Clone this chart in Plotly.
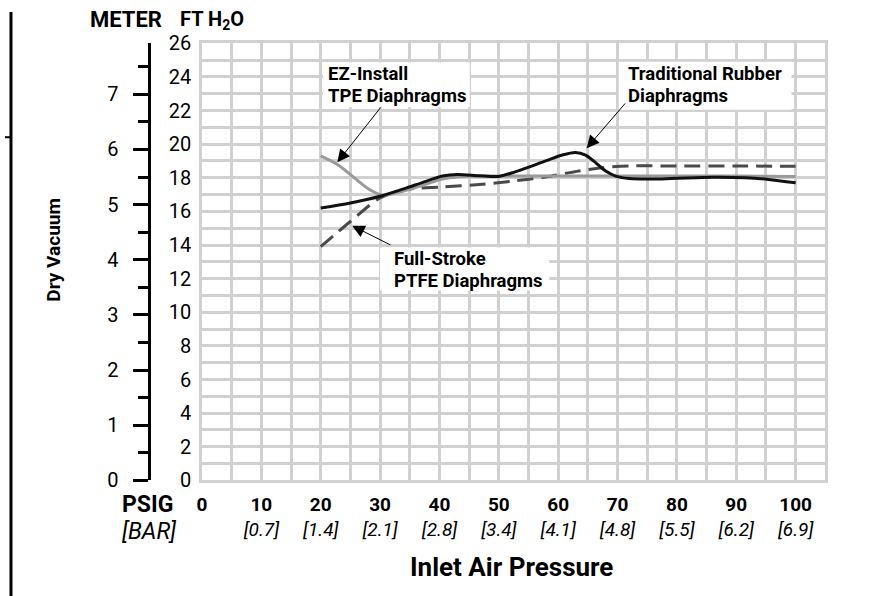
import plotly.graph_objects as go

W, H = 887, 611
FONT = "Roboto, Liberation Sans, sans-serif"

# ---------------- data ----------------
psig_ticks = [0, 10, 20, 30, 40, 50, 60, 70, 80, 90, 100]
bar_labels = ["", "[0.7]", "[1.4]", "[2.1]", "[2.8]", "[3.4]", "[4.1]", "[4.8]", "[5.5]", "[6.2]", "[6.9]"]
ft_ticks = [0, 2, 4, 6, 8, 10, 12, 14, 16, 18, 20, 22, 24, 26]
meter_ticks = [0, 1, 2, 3, 4, 5, 6, 7]
FT_PER_M = 3.28084

rubber_x = [20, 25, 30, 34.5, 37, 40.5, 43, 46.7, 50, 52.3, 57.9, 60.7, 62.9, 64.6, 66.3, 68, 69.7, 72, 77.5, 86, 91.5, 95.4, 100]
rubber_y = [16.2, 16.5, 16.9, 17.4, 17.7, 18.1, 18.2, 18.12, 18.08, 18.3, 19.0, 19.35, 19.5, 19.35, 18.9, 18.4, 18.1, 17.95, 17.93, 18.03, 18.0, 17.9, 17.7]

ptfe_x = [20, 25, 30, 34.5, 40.5, 46.7, 52.3, 57.9, 63.5, 67.4, 72, 80, 90, 100]
ptfe_y = [13.9, 15.4, 16.8, 17.3, 17.45, 17.6, 17.8, 18.05, 18.4, 18.6, 18.7, 18.7, 18.7, 18.68]

tpe_x = [20, 23, 26, 28.2, 30.5, 33.8, 37.2, 40.5, 43.9, 50, 60, 70, 80, 90, 100]
tpe_y = [19.3, 18.75, 17.9, 17.3, 16.96, 17.2, 17.55, 17.93, 18.08, 18.1, 18.1, 18.1, 18.1, 18.1, 18.08]

callout_lines = [["EZ-Install", "TPE Diaphragms"],
                 ["Traditional Rubber", "Diaphragms"],
                 ["Full-Stroke", "PTFE Diaphragms"]]

# photographed-page correction (page px -> picture px: x' = OX + SX*x, y' = OY + SY*y)
OX, SX = 4.0, 0.997
OY, SY = 12.4, 0.956


def fx(X):
    return (X - OX) / SX / W


def fy(Y):
    return 1 - (Y - OY) / SY / H


GRID = "#d0d0d0"

fig = go.Figure()
fig.add_trace(go.Scatter(x=ptfe_x, y=ptfe_y, mode="lines",
                         line=dict(color="#4a4a4a", width=3, dash="16px,8px", shape="spline", smoothing=0.8),
                         hoverinfo="skip", showlegend=False))
fig.add_trace(go.Scatter(x=tpe_x, y=tpe_y, mode="lines",
                         line=dict(color="#9a9a9a", width=3, shape="spline", smoothing=0.8),
                         hoverinfo="skip", showlegend=False))
fig.add_trace(go.Scatter(x=rubber_x, y=rubber_y, mode="lines",
                         line=dict(color="#111111", width=3, shape="spline", smoothing=0.8),
                         hoverinfo="skip", showlegend=False))
# meter axis carrier (no visible mark)
fig.add_trace(go.Scatter(x=[None], y=[None], yaxis="y2", mode="lines", showlegend=False, hoverinfo="skip"))

ticktext = [f"<b>{p}</b><br><i>{b}</i>" if b else f"<b>{p}</b>" for p, b in zip(psig_ticks, bar_labels)]

fig.update_layout(
    width=W, height=H, autosize=False,
    margin=dict(l=0, r=0, t=0, b=0),
    paper_bgcolor="white", plot_bgcolor="white",
    font=dict(family=FONT, color="black"),
    xaxis=dict(
        domain=[fx(201.5), fx(826.5)], range=[0, 105],
        tickmode="array", tickvals=psig_ticks, ticktext=ticktext,
        tickfont=dict(size=19, family=FONT, color="black"),
        ticks="", ticklabelstandoff=5,
        showgrid=True, gridcolor=GRID, gridwidth=2.5,
        minor=dict(tickmode="linear", tick0=0, dtick=5, showgrid=True, gridcolor=GRID, gridwidth=2.5),
        showline=True, linecolor=GRID, linewidth=2.5, mirror=True,
        zeroline=False, fixedrange=True,
    ),
    yaxis=dict(
        domain=[fy(478.5), fy(43.5)], range=[0, 26],
        tickmode="array", tickvals=ft_ticks,
        tickfont=dict(size=20, family=FONT, color="black"),
        ticks="", ticklabelstandoff=4,
        showgrid=True, gridcolor=GRID, gridwidth=2.5,
        minor=dict(tickmode="linear", tick0=0, dtick=1, showgrid=True, gridcolor=GRID, gridwidth=2.5),
        showline=True, linecolor=GRID, linewidth=2.5, mirror=True,
        zeroline=False, fixedrange=True,
    ),
    yaxis2=dict(
        overlaying="y", anchor="free", position=fx(148), side="left",
        range=[0, 26 / FT_PER_M],
        tickmode="array", tickvals=meter_ticks,
        tickfont=dict(size=20, family=FONT, color="black"),
        ticks="outside", ticklen=15, tickwidth=3, tickcolor="black",
        ticklabelstandoff=10,
        minor=dict(tickmode="linear", tick0=0, dtick=0.5, ticks="outside", ticklen=10,
                   tickwidth=3, tickcolor="black", showgrid=False),
        showline=True, linecolor="black", linewidth=3,
        showgrid=False, zeroline=False, fixedrange=True,
    ),
)

ann = []
# headers
ann.append(dict(xref="paper", yref="paper", x=fx(125), y=fy(20), text="<b>METER</b>", showarrow=False,
                font=dict(size=22, family=FONT), xanchor="center", yanchor="middle"))
ann.append(dict(xref="paper", yref="paper", x=fx(177), y=fy(20), text="<b>FT H<sub>2</sub>O</b>", showarrow=False,
                font=dict(size=20, family=FONT), xanchor="left", yanchor="middle"))
ann.append(dict(xref="paper", yref="paper", x=fx(53), y=fy(249), text="<b>Dry Vacuum</b>", showarrow=False,
                font=dict(size=19, family=FONT), textangle=-90, xanchor="center", yanchor="middle"))
ann.append(dict(xref="paper", yref="paper", x=fx(147), y=fy(502), text="<b>PSIG</b>", showarrow=False,
                font=dict(size=23, family=FONT), xanchor="center", yanchor="middle"))
ann.append(dict(xref="paper", yref="paper", x=fx(149), y=fy(529), text="<i>[BAR]</i>", showarrow=False,
                font=dict(size=23, family=FONT), xanchor="center", yanchor="middle"))
ann.append(dict(xref="paper", yref="paper", x=fx(512), y=fy(565), text="<b>Inlet Air Pressure</b>", showarrow=False,
                font=dict(size=26, family=FONT), xanchor="center", yanchor="middle"))

# callout text, one annotation per line: (left x, [line y ...]) in data units
text_pos = [(21.1, [24.18, 22.86]), (71.66, [24.18, 22.84]), (32.17, [13.14, 11.84])]
for lines, (bx, ys) in zip(callout_lines, text_pos):
    for line, ly in zip(lines, ys):
        ann.append(dict(xref="x", yref="y", x=bx, y=ly, text=f"<b>{line}</b>", showarrow=False, align="left",
                        xanchor="left", yanchor="middle", borderpad=0,
                        font=dict(size=18.5, family=FONT)))

# arrows: (tail_x, tail_y, head_x, head_y)
arrows = [(30.3, 22.27, 22.8, 18.92), (71.5, 22.51, 64.8, 19.76), (32.0, 13.96, 25.3, 15.15)]
for tx, ty, hx, hy in arrows:
    ann.append(dict(xref="x", yref="y", axref="x", ayref="y", x=hx, y=hy, ax=tx, ay=ty, text="",
                    showarrow=True, arrowhead=2, arrowsize=2.5, arrowwidth=1, arrowcolor="black"))

fig.update_layout(annotations=ann)

# white callout boxes masking the grid (x0, x1, y0, y1 in data units)
boxes = [(20.4, 45.1, 22.2, 24.85), (70.2, 99.3, 22.05, 24.9), (30.0, 58.5, 11.3, 13.85)]
for x0, x1, y0, y1 in boxes:
    fig.add_shape(type="rect", xref="x", yref="y", x0=x0, x1=x1, y0=y0, y1=y1,
                  fillcolor="white", line=dict(width=0), layer="above")

# page-edge frame fragments
fig.add_shape(type="line", xref="paper", yref="paper", x0=fx(10), x1=fx(10), y0=0, y1=1,
              line=dict(color="black", width=3))
fig.add_shape(type="line", xref="paper", yref="paper", x0=0, x1=fx(10), y0=fy(137), y1=fy(137),
              line=dict(color="black", width=2))

fig.write_html("out.html",
               config={"displayModeBar": False, "responsive": False},
               post_script="document.body.style.margin='0';document.body.style.overflow='hidden';")
